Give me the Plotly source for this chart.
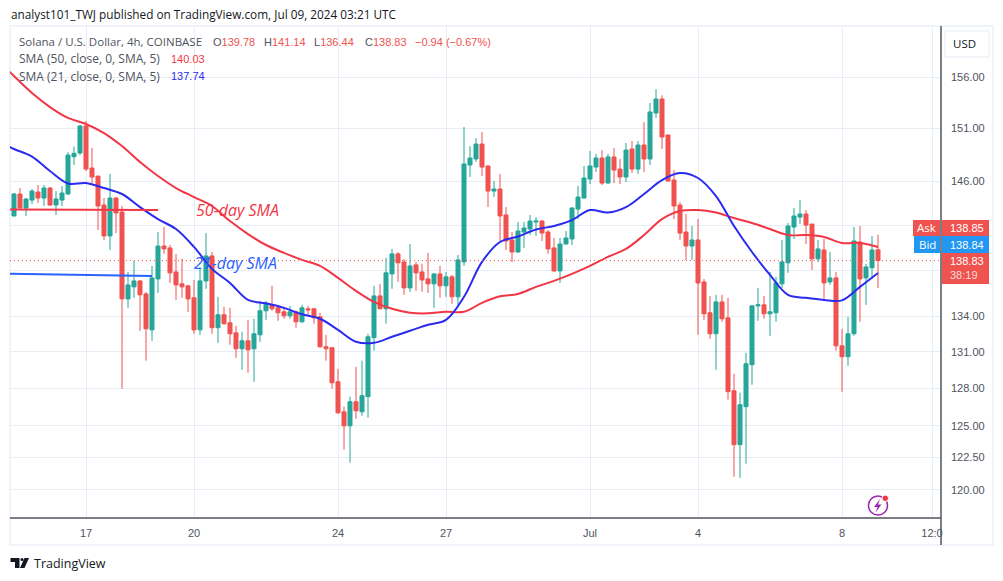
import pandas as pd
import plotly.graph_objects as go

# 4h candles, first one is Jun 15 00:00
start = "2024-06-15"
opens = [
    142.82, 144.83, 143.54, 144.27, 145.01, 144.46, 145.38, 143.82, 144.27, 144.83,
    148.30, 148.65, 151.23, 147.24, 146.49, 143.82, 141.02, 144.46, 143.18, 135.49,
    136.53, 137.05, 135.92, 132.85, 137.22, 140.12, 139.95, 137.83, 136.79, 136.62,
    135.58, 132.85, 137.05, 139.24, 133.03, 134.13, 133.45, 132.60, 131.26, 131.93,
    131.26, 132.43, 134.47, 134.98, 134.72, 134.38, 134.04, 134.38, 133.53, 134.64,
    134.64, 133.96, 131.43, 131.35, 128.54, 126.11, 124.99, 126.92, 126.11, 127.33,
    132.19, 135.75, 134.64, 137.66, 139.42, 138.71, 136.44, 138.45, 137.83, 137.22,
    136.79, 137.66, 136.62, 137.40, 135.67, 138.71, 147.52, 148.09, 149.50, 147.43,
    145.10, 145.29, 142.91, 140.66, 139.59, 141.37, 141.64, 142.27, 142.36, 141.37,
    139.95, 137.92, 140.30, 140.75, 143.45, 144.46, 146.21, 147.33, 148.18, 145.84,
    148.28, 147.14, 146.40, 149.03, 147.14, 149.41, 148.09, 152.48, 153.84, 150.36,
    146.12, 143.82, 141.37, 140.12, 140.66, 136.96, 134.30, 132.52, 135.23, 133.87,
    127.81, 123.50, 126.52, 129.94, 134.89, 134.98, 134.21, 134.30, 136.79, 138.63,
    141.82, 142.72, 143.00, 142.09, 138.98, 139.77, 136.96, 137.31, 131.51, 130.60,
    132.52, 140.48, 137.31, 138.19, 139.78,
]
highs = [
    144.92, 145.38, 144.46, 145.29, 145.66, 145.66, 145.47, 145.10, 145.57, 148.74,
    149.27, 151.33, 151.70, 149.12, 146.50, 144.46, 146.68, 144.55, 143.73, 137.83,
    138.80, 137.10, 136.10, 138.36, 141.37, 141.82, 140.21, 139.42, 138.98, 136.70,
    137.13, 138.10, 141.28, 139.59, 135.67, 134.81, 134.72, 133.20, 132.69, 133.70,
    133.79, 135.32, 135.32, 136.62, 134.98, 134.72, 134.89, 134.47, 134.98, 134.89,
    134.72, 134.30, 132.43, 131.40, 129.60, 126.52, 127.33, 129.77, 130.27, 132.52,
    136.62, 136.79, 139.07, 139.86, 139.59, 138.98, 140.30, 138.71, 138.54, 139.51,
    137.70, 138.36, 137.83, 137.57, 139.33, 151.13, 149.31, 150.07, 150.65, 147.50,
    146.03, 146.68, 143.63, 141.37, 142.27, 142.27, 142.91, 142.72, 142.45, 141.55,
    140.84, 140.84, 141.46, 143.63, 145.57, 147.43, 148.84, 148.56, 148.93, 148.56,
    149.12, 148.09, 149.60, 149.79, 149.79, 151.60, 153.45, 154.80, 154.20, 150.40,
    147.05, 144.09, 143.00, 141.91, 142.54, 137.22, 135.75, 135.84, 135.84, 135.58,
    129.19, 127.65, 130.93, 134.98, 136.44, 135.75, 137.83, 137.40, 140.66, 142.18,
    143.54, 144.27, 143.36, 142.10, 140.66, 140.75, 139.59, 137.83, 132.94, 133.96,
    141.82, 141.91, 138.54, 141.02, 141.14,
]
lows = [
    142.80, 143.54, 142.82, 143.91, 144.00, 143.73, 143.73, 142.91, 143.73, 144.74,
    147.52, 148.46, 146.96, 145.75, 141.55, 140.66, 139.77, 141.28, 127.97, 134.72,
    135.58, 132.77, 130.27, 131.93, 136.01, 139.42, 136.87, 135.40, 135.58, 134.38,
    132.52, 132.43, 136.36, 132.52, 131.76, 133.28, 131.60, 130.51, 129.52, 129.28,
    128.54, 131.85, 133.70, 134.47, 133.62, 133.79, 133.79, 133.03, 133.45, 134.04,
    133.37, 131.35, 130.27, 127.97, 125.95, 123.11, 122.10, 125.55, 125.79, 125.63,
    131.10, 134.64, 133.37, 136.36, 136.96, 135.84, 136.10, 136.18, 136.10, 136.01,
    134.72, 135.58, 135.67, 135.06, 134.81, 138.36, 146.40, 147.80, 146.49, 143.63,
    144.55, 140.57, 139.77, 138.71, 139.50, 139.95, 141.10, 141.02, 140.57, 139.42,
    137.83, 136.87, 140.25, 140.21, 142.54, 144.40, 145.75, 146.87, 145.66, 145.80,
    145.84, 145.75, 145.94, 146.77, 146.68, 146.87, 147.52, 152.00, 149.03, 146.00,
    142.54, 140.66, 138.89, 138.89, 132.43, 133.70, 132.10, 129.52, 133.53, 127.08,
    121.01, 120.93, 122.02, 128.30, 133.62, 133.79, 132.35, 133.53, 136.44, 137.75,
    140.75, 142.09, 140.30, 138.01, 138.71, 135.49, 136.70, 131.10, 127.73, 129.85,
    132.35, 133.53, 134.98, 137.22, 136.44,
]
closes = [
    144.83, 143.54, 144.37, 145.10, 144.46, 145.38, 143.82, 144.37, 144.92, 148.46,
    148.62, 151.23, 147.14, 146.40, 143.73, 141.02, 144.46, 143.09, 135.49, 136.70,
    137.05, 135.84, 132.94, 137.31, 140.12, 139.86, 137.75, 136.70, 136.53, 135.49,
    132.85, 137.05, 139.24, 133.03, 134.13, 133.37, 132.52, 131.26, 131.93, 131.18,
    132.52, 134.47, 135.06, 134.64, 134.30, 134.04, 134.38, 133.53, 134.72, 134.55,
    133.87, 131.43, 131.26, 128.46, 126.03, 124.99, 126.92, 126.19, 127.41, 132.27,
    135.75, 134.64, 137.75, 139.42, 138.63, 136.44, 138.36, 137.75, 137.13, 136.79,
    137.66, 136.62, 137.40, 135.67, 138.89, 147.62, 148.18, 149.50, 147.33, 145.10,
    145.29, 142.82, 140.57, 139.59, 141.46, 141.73, 142.36, 142.36, 141.28, 139.86,
    137.92, 140.30, 140.84, 143.54, 144.55, 146.31, 147.43, 148.18, 145.84, 148.28,
    147.05, 146.40, 148.93, 147.14, 149.41, 148.09, 152.58, 153.84, 150.17, 146.03,
    143.73, 141.28, 140.12, 140.66, 136.87, 134.21, 132.52, 135.23, 133.79, 127.73,
    123.50, 126.68, 130.02, 134.89, 134.98, 134.21, 134.38, 136.87, 138.71, 141.91,
    142.82, 143.00, 142.00, 138.98, 139.86, 136.87, 137.31, 131.51, 130.60, 132.52,
    140.57, 137.22, 138.27, 139.77, 138.83,
]

# moving averages (bar -1 is just left of the frame)
sma_bars = [-1] + list(range(0, 145, 3))
sma50 = [
    156.70, 156.10, 154.42, 153.05, 152.00, 151.42, 150.55, 149.31, 147.80, 146.49,
    145.38, 144.55, 143.73, 142.36, 141.19, 140.21, 139.51, 138.89, 138.36, 137.31,
    136.18, 135.23, 134.64, 134.30, 134.25, 134.38, 134.38, 135.15, 135.71, 135.92,
    136.53, 137.05, 137.66, 138.36, 139.16, 139.86, 141.10, 142.54, 143.27, 143.36,
    143.13, 142.63, 142.18, 141.64, 141.10, 141.10, 140.93, 140.39, 140.39, 140.03,
]
sma21 = [
    149.31, 149.03, 148.32, 146.96, 145.80, 145.84, 145.38, 144.83, 143.63, 142.54,
    141.64, 140.04, 138.10, 136.87, 135.40, 135.11, 134.72, 134.17, 133.79, 132.85,
    131.85, 131.76, 132.27, 132.77, 133.28, 133.70, 135.67, 138.71, 140.48, 140.97,
    141.60, 141.91, 142.45, 143.36, 143.13, 143.63, 144.83, 146.12, 146.77, 146.31,
    144.64, 141.91, 139.59, 137.57, 135.84, 135.58, 135.40, 135.36, 136.53, 137.74,
]

# hand drawn trend lines on the chart
drawn_bars = [-1, 24]
drawn_red = [143.42, 143.36]
drawn_blue_bars = [-1, 23]
drawn_blue = [137.68, 137.48]

y_ticks = [156, 151, 146, 142, 138, 134, 131, 128, 125, 122.5, 120]
# 142 and 138 have gridlines but their labels sit behind the price tags
y_tick_text = ["156.00", "151.00", "146.00", "", "", "134.00", "131.00", "128.00", "125.00", "122.50", "120.00"]
x_tick_dates = ["2024-06-17", "2024-06-20", "2024-06-24", "2024-06-27", "2024-07-01",
                "2024-07-04", "2024-07-08", "2024-07-10 12:00"]
x_tick_text = ["17", "20", "24", "27", "Jul", "4", "8", "12:0"]

UP = "#26a69a"
DOWN = "#ef5350"
RED = "#f23645"
BLUE = "#2a2af0"
GRID = "#e6edf4"
FRAME = "#f0f3fa"
TEXT = "#50535e"
AXIS = "#50535e"
FONT = "Open Sans"
NUM_FONT = "Liberation Sans"
W, H = 1003, 581
L, R, T, B = 10, 941, 26, 518


def px(x):
    return (x - L) / (R - L)


def py(y):
    return (B - y) / (B - T)


def bar_time(i):
    return pd.Timestamp(start) + pd.Timedelta(hours=4 * i)


fig = go.Figure()
times = [bar_time(i) for i in range(len(opens))]
fig.add_trace(go.Candlestick(
    x=times, open=opens, high=highs, low=lows, close=closes, whiskerwidth=0,
    increasing=dict(line=dict(color=UP, width=1), fillcolor=UP),
    decreasing=dict(line=dict(color=DOWN, width=1), fillcolor=DOWN),
    hoverinfo="skip", showlegend=False,
))
for bars, vals, color, shape in [(sma_bars, sma50, RED, "spline"), (sma_bars, sma21, BLUE, "spline"),
                                 (drawn_bars, drawn_red, RED, "linear"),
                                 (drawn_blue_bars, drawn_blue, "#2962ff", "linear")]:
    fig.add_trace(go.Scatter(
        x=[bar_time(i) for i in bars], y=vals, mode="lines",
        line=dict(color=color, width=2, shape=shape), hoverinfo="skip", showlegend=False,
    ))

shapes = []


def box(x0, y0, x1, y1, fill, line=None, width=0):
    shapes.append(dict(type="rect", xref="paper", yref="paper", x0=px(x0), x1=px(x1),
                       y0=py(y0), y1=py(y1), fillcolor=fill, layer="above",
                       line=dict(color=line or fill, width=width)))


def outline(points, fill=None, color=None, width=0):
    path = "M" + " L".join(f"{px(x):.5f},{py(y):.5f}" for x, y in points) + " Z"
    shapes.append(dict(type="path", xref="paper", yref="paper", path=path, layer="above",
                       fillcolor=fill, line=dict(color=color or fill, width=width)))


# current price line
shapes.append(dict(type="line", xref="paper", yref="y", x0=0, x1=1, y0=closes[-1], y1=closes[-1],
                   line=dict(color=DOWN, width=1, dash="1px,3px"), layer="above"))
# axis lines and outer frame
shapes.append(dict(type="line", xref="paper", yref="paper", x0=px(10), x1=px(941), y0=0, y1=0,
                   line=dict(color=AXIS, width=1.5), layer="above"))
shapes.append(dict(type="line", xref="paper", yref="paper", x0=px(941), x1=px(941), y0=py(26), y1=py(545),
                   line=dict(color=AXIS, width=1.5), layer="above"))
shapes.append(dict(type="rect", xref="paper", yref="paper", x0=px(10), x1=px(993), y0=py(26), y1=py(545),
                   line=dict(color=FRAME, width=2), layer="below"))
# USD button
shapes.append(dict(type="rect", xref="paper", yref="paper", x0=px(945), x1=px(989), y0=py(31), y1=py(57),
                   fillcolor="white", line=dict(color=FRAME, width=1.5), layer="above"))
# price tags
box(913, 220, 940, 236, DOWN)
box(914, 236, 940, 253, "#2196f3")
box(942, 220, 989, 236, DOWN)
box(942, 236, 989, 253, "#2196f3")
box(942, 253, 989, 284, DOWN)
# flash icon
shapes.append(dict(type="circle", xref="paper", yref="paper", x0=px(868.5), x1=px(887.5), y0=py(496), y1=py(515),
                   line=dict(color="#9c27b0", width=1.5), layer="above"))
outline([(880, 499), (874, 507), (877.5, 507), (875.5, 512.5), (881.5, 504.5), (878, 504.5)], fill="#9c27b0")
shapes.append(dict(type="circle", xref="paper", yref="paper", x0=px(882), x1=px(888.5), y0=py(495), y1=py(501.5),
                   fillcolor="#f23645", line=dict(color="white", width=1), layer="above"))
# TradingView logo
outline([(10.5, 558), (19.5, 558), (19.5, 568), (15, 568), (15, 562), (10.5, 562)], fill="#131722")
outline([(24.5, 558), (29, 558), (24.5, 568), (20, 568)], fill="#131722")
shapes.append(dict(type="circle", xref="paper", yref="paper", x0=px(20.5), x1=px(23.5), y0=py(558), y1=py(561),
                   fillcolor="#131722", line=dict(width=0), layer="above"))

notes = []


def note(x, y, text, color=TEXT, size=12, anchor="left", italic=False, family=FONT):
    notes.append(dict(xref="paper", yref="paper", x=px(x), y=py(y), text=text, showarrow=False,
                      xanchor=anchor, yanchor="middle", borderpad=0, align="left",
                      font=dict(color=color, size=size, family=family,
                                style="italic" if italic else "normal")))


note(10, 14, "analyst101_TWJ published on TradingView.com, Jul 09, 2024 03:21 UTC", color="#131722", size=11.8)
note(18, 42, "Solana / U.S. Dollar, 4h, COINBASE", size=11.5)
for x, key, value in [(212, "O", "139.78"), (263, "H", "141.14"), (313, "L", "136.44"), (364, "C", "138.83")]:
    note(x, 42, f'{key}<span style="color:{DOWN}">{value}</span>', size=11, family=NUM_FONT)
note(414, 42, "−0.94 (−0.67%)", color=DOWN, size=11, family=NUM_FONT)
note(18, 59, "SMA (50, close, 0, SMA, 5)")
note(170, 59, "140.03", color=RED, size=11, family=NUM_FONT)
note(18, 76, "SMA (21, close, 0, SMA, 5)")
note(170, 76, "137.74", color=BLUE, size=11, family=NUM_FONT)
note(195, 210, "50-day SMA", color=RED, size=16, italic=True)
note(193, 263, "21-day SMA", color="#2962ff", size=16, italic=True)
note(965, 43, "USD", color="#131722", anchor="center", size=11.5)
note(926.5, 228, "Ask", color="white", anchor="center", size=11.5)
note(927, 244.5, "Bid", color="white", anchor="center", size=11.5)
note(967, 228, "138.85", color="white", anchor="center", size=11, family=NUM_FONT)
note(967, 244.5, "138.84", color="white", anchor="center", size=11, family=NUM_FONT)
note(967, 261, "138.83", color="white", anchor="center", size=11, family=NUM_FONT)
note(964, 275, "38:19", color="#fbd9d8", anchor="center", size=11, family=NUM_FONT)
note(33, 563, "TradingView", color="#131722", size=12.5)

fig.update_layout(
    width=W, height=H, margin=dict(l=L, r=W - R, t=T, b=H - B, autoexpand=False),
    paper_bgcolor="white", plot_bgcolor="white",
    font=dict(family=NUM_FONT, size=11, color=TEXT),
    boxgap=0.33, boxgroupgap=0, showlegend=False, hovermode=False,
    shapes=shapes, annotations=notes,
)
fig.update_xaxes(
    type="date", range=["2024-06-14 21:20", "2024-07-10 18:00"], rangeslider_visible=False,
    tickmode="array", tickvals=x_tick_dates, ticktext=x_tick_text,
    showgrid=True, gridcolor=GRID, gridwidth=1, zeroline=False, showline=False,
    ticks="", ticklabelstandoff=7,
)
fig.update_yaxes(
    type="log", range=[2.07144, 2.20722], side="right",
    tickmode="array", tickvals=y_ticks, ticktext=y_tick_text,
    showgrid=True, gridcolor=GRID, gridwidth=1, zeroline=False, showline=False,
    ticks="", ticklabelstandoff=9,
)

fig.write_html("out.html", config={"displayModeBar": False},
               post_script="document.body.style.margin='0';document.body.style.overflow='hidden';")
